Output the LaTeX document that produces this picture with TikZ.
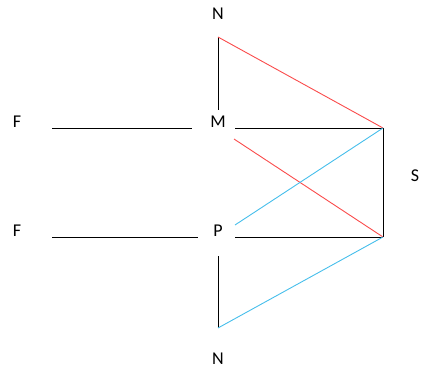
\documentclass[tikz,border=0pt]{standalone}
\usepackage{fontspec}
\setmainfont{Carlito}
\definecolor{lred}{RGB}{250,75,75}
\definecolor{lblue}{RGB}{70,190,235}
\begin{document}
\begin{tikzpicture}[x=1pt,y=-1pt,
  lbl/.style={font=\fontsize{18}{18}\selectfont, inner sep=0pt},
  blk/.style={draw=black, line width=1pt},
  redl/.style={draw=lred, line width=0.9pt},
  bluel/.style={draw=lblue, line width=0.9pt}]
\useasboundingbox (0,0) rectangle (421,372);
% labels
\node[lbl] (Ntop) at (218,14) {N};
\node[lbl] (M) at (218,122) {M};
\node[lbl] (P) at (218,231) {P};
\node[lbl] (Nbot) at (218,359) {N};
\node[lbl] (F1) at (17,122) {F};
\node[lbl] (F2) at (17,231) {F};
\node[lbl] (S) at (415,176) {S};
% points
\coordinate (n1) at (218,37);
\coordinate (m0) at (218,110);
\coordinate (mL) at (192,128);
\coordinate (mR) at (235,128);
\coordinate (mD) at (234,139);
\coordinate (f1) at (52,128);
\coordinate (a) at (383,128);
\coordinate (b) at (383,237);
\coordinate (f2) at (52,237);
\coordinate (pL) at (198,237);
\coordinate (pR) at (235,237);
\coordinate (pU) at (235,225);
\coordinate (pD) at (218,256);
\coordinate (n2) at (218,328);
% black lines
\draw[blk] (n1) -- (m0);
\draw[blk] (f1) -- (mL);
\draw[blk] (mR) -- (a);
\draw[blk] (a) -- (b);
\draw[blk] (f2) -- (pL);
\draw[blk] (pR) -- (b);
\draw[blk] (pD) -- (n2);
% red
\draw[redl] (n1) -- (a);
\draw[redl] (mD) -- (b);
% blue
\draw[bluel] (pU) -- (a);
\draw[bluel] (n2) -- (b);
\end{tikzpicture}
\end{document}
